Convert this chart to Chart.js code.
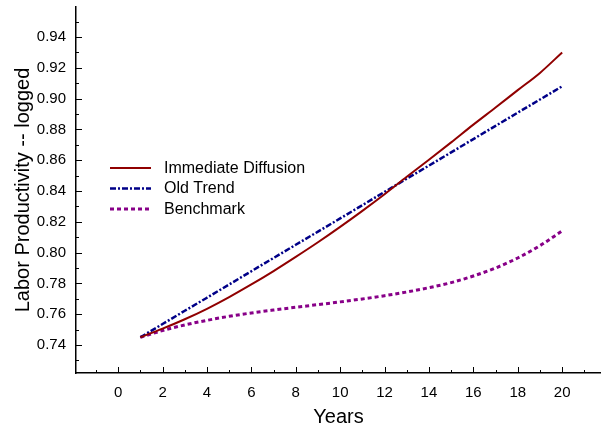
<!DOCTYPE html>
<html>
<head>
<meta charset="utf-8">
<script src="https://cdn.jsdelivr.net/npm/chart.js@4/dist/chart.umd.min.js"></script>
<style>
html,body{margin:0;padding:0;background:#fff;}
canvas{display:block;}
</style>
</head>
<body>
<canvas id="c" width="601" height="435"></canvas>
<script>
// ---- data ----
const years = [1,2,3,4,5,6,7,8,9,10,11,12,13,14,15,16,17,18,19,20];
const immediateDiffusion = [0.7450,0.7506,0.7567,0.7635,0.7711,0.7793,0.7880,0.7972,0.8067,0.8167,0.8271,0.8379,0.8492,0.8603,0.8716,0.8831,0.8942,0.9055,0.9167,0.9300];
const oldTrend = [0.7450,0.7536,0.7622,0.7707,0.7793,0.7879,0.7965,0.8051,0.8136,0.8222,0.8308,0.8394,0.8480,0.8565,0.8651,0.8737,0.8823,0.8909,0.8994,0.9080];
const benchmark = [0.7450,0.7494,0.7530,0.7560,0.7586,0.7608,0.7627,0.7645,0.7662,0.7680,0.7699,0.7720,0.7744,0.7772,0.7805,0.7848,0.7900,0.7965,0.8045,0.8141];
const seriesNames = ["Immediate Diffusion","Old Trend","Benchmark"];
const xTickLabels = [0,2,4,6,8,10,12,14,16,18,20];
const xMinorTicks = [-1,1,3,5,7,9,11,13,15,17,19,21];
const yTickLabels = [0.74,0.76,0.78,0.80,0.82,0.84,0.86,0.88,0.90,0.92,0.94];
const yMinorTicks = [0.73,0.75,0.77,0.79,0.81,0.83,0.85,0.87,0.89,0.91,0.93,0.95];
const xTitle = "Years";
const yTitle = "Labor Productivity -- logged";

const pts = arr => years.map((x,i)=>({x:x,y:arr[i]}));

const FONT = "'Liberation Sans', Arial, sans-serif";

const tickPlugin = {
  id:'innerTicks',
  afterDatasetsDraw(chart){
    const ctx = chart.ctx, a = chart.chartArea;
    const xs = chart.scales.x, ys = chart.scales.y;
    ctx.save();
    ctx.strokeStyle = '#000';
    ctx.lineWidth = 1;
    const drawX = (vals,len)=>vals.forEach(v=>{
      const px = Math.round(xs.getPixelForValue(v))+0.5;
      if(px < a.left || px > a.right) return;
      ctx.beginPath(); ctx.moveTo(px,a.bottom); ctx.lineTo(px,a.bottom-len); ctx.stroke();
    });
    const drawY = (vals,len)=>vals.forEach(v=>{
      const py = Math.round(ys.getPixelForValue(v))+0.5;
      if(py < a.top || py > a.bottom) return;
      ctx.beginPath(); ctx.moveTo(a.left,py); ctx.lineTo(a.left+len,py); ctx.stroke();
    });
    drawX(xTickLabels,6); drawX(xMinorTicks,3);
    drawY(yTickLabels,6); drawY(yMinorTicks,3);
    ctx.restore();
  }
};

const legendPlugin = {
  id:'innerLegend',
  afterDraw(chart){
    const ctx = chart.ctx;
    ctx.save();
    ctx.font = "16px " + FONT;
    ctx.textBaseline = 'middle';
    ctx.fillStyle = '#000';
    const x0 = 110, x1 = 151, tx = 164, y0 = 168, dy = 20.5;
    chart.data.datasets.forEach((ds,i)=>{
      const y = y0 + i*dy;
      ctx.strokeStyle = ds.borderColor;
      ctx.lineWidth = ds.borderWidth;
      ctx.setLineDash(ds.borderDash || []);
      ctx.beginPath(); ctx.moveTo(x0,y); ctx.lineTo(x1,y); ctx.stroke();
      ctx.setLineDash([]);
      ctx.fillText(ds.label, tx, y+0.5);
    });
    ctx.restore();
  }
};

new Chart(document.getElementById('c'), {
  type:'line',
  data:{
    datasets:[
      {label:seriesNames[0], data:pts(immediateDiffusion), borderColor:'#900000', borderWidth:2, pointRadius:0, cubicInterpolationMode:'monotone', fill:false},
      {label:seriesNames[1], data:pts(oldTrend), borderColor:'#000088', borderWidth:2.5, borderDash:[6,2,2,2], pointRadius:0, tension:0, fill:false},
      {label:seriesNames[2], data:pts(benchmark), borderColor:'#880088', borderWidth:3, borderDash:[4,3], pointRadius:0, cubicInterpolationMode:'monotone', fill:false}
    ]
  },
  options:{
    responsive:false,
    animation:false,
    devicePixelRatio:1,
    layout:{padding:{top:7,right:0,left:0,bottom:0}},
    plugins:{legend:{display:false}, tooltip:{enabled:false}},
    scales:{
      x:{
        type:'linear', min:-1.9, max:21.75,
        afterBuildTicks(s){ s.ticks = xTickLabels.map(v=>({value:v})); },
        afterFit(s){ s.height = 62; s.paddingLeft = 0; s.paddingRight = 0; },
        grid:{display:false, drawTicks:false},
        border:{display:true, color:'#000', width:1.5},
        ticks:{color:'#000', font:{family:FONT, size:15}, padding:11, maxRotation:0, autoSkip:false, callback:v=>String(v)},
        title:{display:true, text:xTitle, color:'#000', font:{family:FONT, size:20}, padding:{top:10,bottom:6}}
      },
      y:{
        type:'linear', min:0.7218, max:0.9595,
        afterBuildTicks(s){ s.ticks = yTickLabels.map(v=>({value:v})); },
        afterFit(s){ s.width = 76; s.paddingTop = 0; s.paddingBottom = 0; },
        grid:{display:false, drawTicks:false},
        border:{display:true, color:'#000', width:1.5},
        ticks:{color:'#000', font:{family:FONT, size:15}, padding:10, autoSkip:false, callback:v=>v.toFixed(2)},
        title:{display:true, text:yTitle, color:'#000', font:{family:FONT, size:20}, padding:{top:11,bottom:11}}
      }
    }
  },
  plugins:[tickPlugin, legendPlugin]
});
</script>
</body>
</html>
